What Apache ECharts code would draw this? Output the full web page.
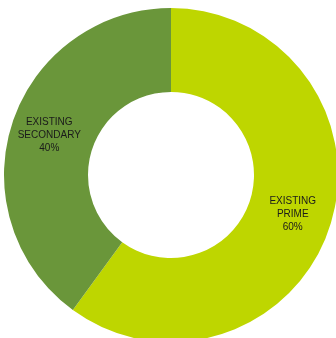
<!DOCTYPE html>
<html>
<head>
<meta charset="utf-8">
<script src="https://cdn.jsdelivr.net/npm/echarts@6/dist/echarts.min.js"></script>
<style>
  html, body { margin: 0; padding: 0; background: #ffffff; }
  #chart { width: 336px; height: 338px; }
</style>
</head>
<body>
<div id="chart"></div>
<script>
// Share of existing stock by grade
const categories = ['EXISTING\nPRIME', 'EXISTING\nSECONDARY'];
const values = [60, 40];
const colors = ['#bed600', '#6a963a'];

const chart = echarts.init(document.getElementById('chart'), null, { renderer: 'canvas' });

chart.setOption({
  animation: false,
  series: [{
    type: 'pie',
    center: [171, 175],
    radius: [83, 167],
    startAngle: 90,
    clockwise: true,
    silent: true,
    data: categories.map((name, i) => ({
      name: name,
      value: values[i],
      itemStyle: { color: colors[i] }
    })),
    label: {
      show: true,
      position: 'inside',
      formatter: p => p.name + '\n' + p.value + '%',
      fontFamily: 'Liberation Sans, Arial, sans-serif',
      fontSize: 10,
      lineHeight: 13,
      color: '#1a1a1a',
      align: 'center',
      padding: [4, 0, 0, 0]
    },
    labelLine: { show: false },
    itemStyle: { borderWidth: 0 }
  }]
});
</script>
</body>
</html>
